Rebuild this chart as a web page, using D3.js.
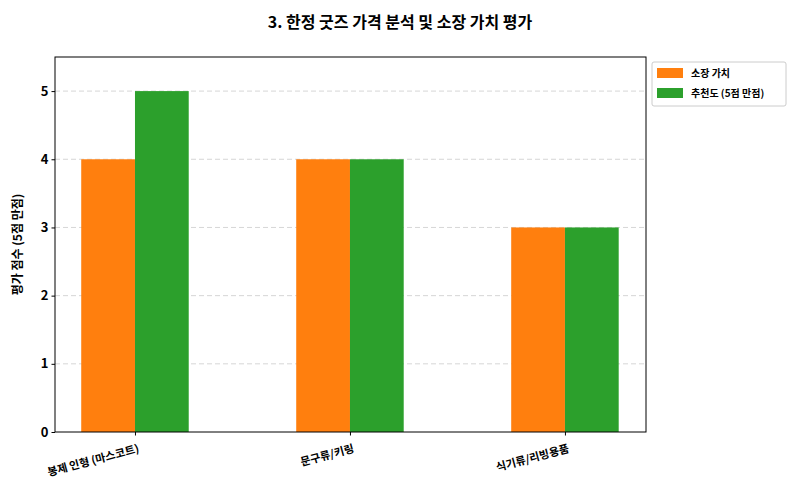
<!DOCTYPE html>
<html><head><meta charset="utf-8">
<script src="https://cdn.jsdelivr.net/npm/d3@7"></script>
<style>body{margin:0;background:#fff}text{font-family:"Noto Sans CJK KR","Noto Sans",sans-serif}</style>
</head><body><svg id="c" width="800" height="500"></svg>
<script>
const categories=["봉제 인형 (마스코트)","문구류/키링","식기류/리빙용품"];
const ownValue=[4,4,3];
const recommend=[5,4,3];
const seriesNames=["소장 가치","추천도 (5점 만점)"];
const colors=["#ff7f0e","#2ca02c"];
const yTicks=[0,1,2,3,4,5];
const svg=d3.select("#c");
const L=55,R=646,T=57,B=432;
const x=d3.scaleLinear().domain([-0.372,2.377]).range([L,R]);
const y=d3.scaleLinear().domain([0,5.5]).range([B,T]);
const bw=x(0.25)-x(0);
svg.append("g").selectAll("line").data(yTicks.slice(1)).join("line")
 .attr("x1",L).attr("x2",R).attr("y1",d=>y(d)).attr("y2",d=>y(d))
 .attr("stroke","#ccc").attr("stroke-dasharray","5,3").attr("stroke-width",0.8);
[ownValue,recommend].forEach((s,si)=>{
 svg.append("g").selectAll("rect").data(s).join("rect")
  .attr("x",(d,i)=>si===0?x(i)-bw:x(i)).attr("width",bw)
  .attr("y",d=>y(d)).attr("height",d=>B-y(d)).attr("fill",colors[si]);
});
svg.append("rect").attr("x",L).attr("y",T).attr("width",R-L).attr("height",B-T).attr("fill","none").attr("stroke","#000");
const ya=svg.append("g").attr("transform",`translate(${L},0)`).call(d3.axisLeft(y).tickValues(yTicks).tickSize(3.5).tickFormat(d3.format("d")));
ya.select(".domain").remove();
ya.selectAll("text").attr("font-size",13).attr("font-weight","bold").attr("fill","#000");
const xa=svg.append("g").attr("transform",`translate(0,${B})`).call(d3.axisBottom(x).tickValues([0,1,2]).tickSize(3.5).tickFormat(i=>categories[i]));
xa.select(".domain").remove();
xa.selectAll("text").attr("font-size",11).attr("font-weight","bold").attr("fill","#000")
 .attr("text-anchor","end").attr("transform","translate(0,4) rotate(-15)").attr("dy","0.9em");
svg.append("text").attr("x",400).attr("y",28).attr("text-anchor","middle").attr("font-size",16).attr("font-weight","bold").text("3. 한정 굿즈 가격 분석 및 소장 가치 평가");
svg.append("text").attr("transform",`translate(22,${(T+B)/2}) rotate(-90)`).attr("text-anchor","middle").attr("font-size",12).attr("font-weight","bold").text("평가 점수 (5점 만점)");
const lg=svg.append("g").attr("transform","translate(652,62)");
lg.append("rect").attr("width",134).attr("height",44).attr("fill","#fff").attr("stroke","#ccc").attr("rx",2);
seriesNames.forEach((n,i)=>{
 lg.append("rect").attr("x",5).attr("y",6+i*20).attr("width",26).attr("height",10).attr("fill",colors[i]);
 lg.append("text").attr("x",39).attr("y",15+i*20).attr("font-size",10).attr("font-weight","bold").text(n);
});
</script></body></html>
